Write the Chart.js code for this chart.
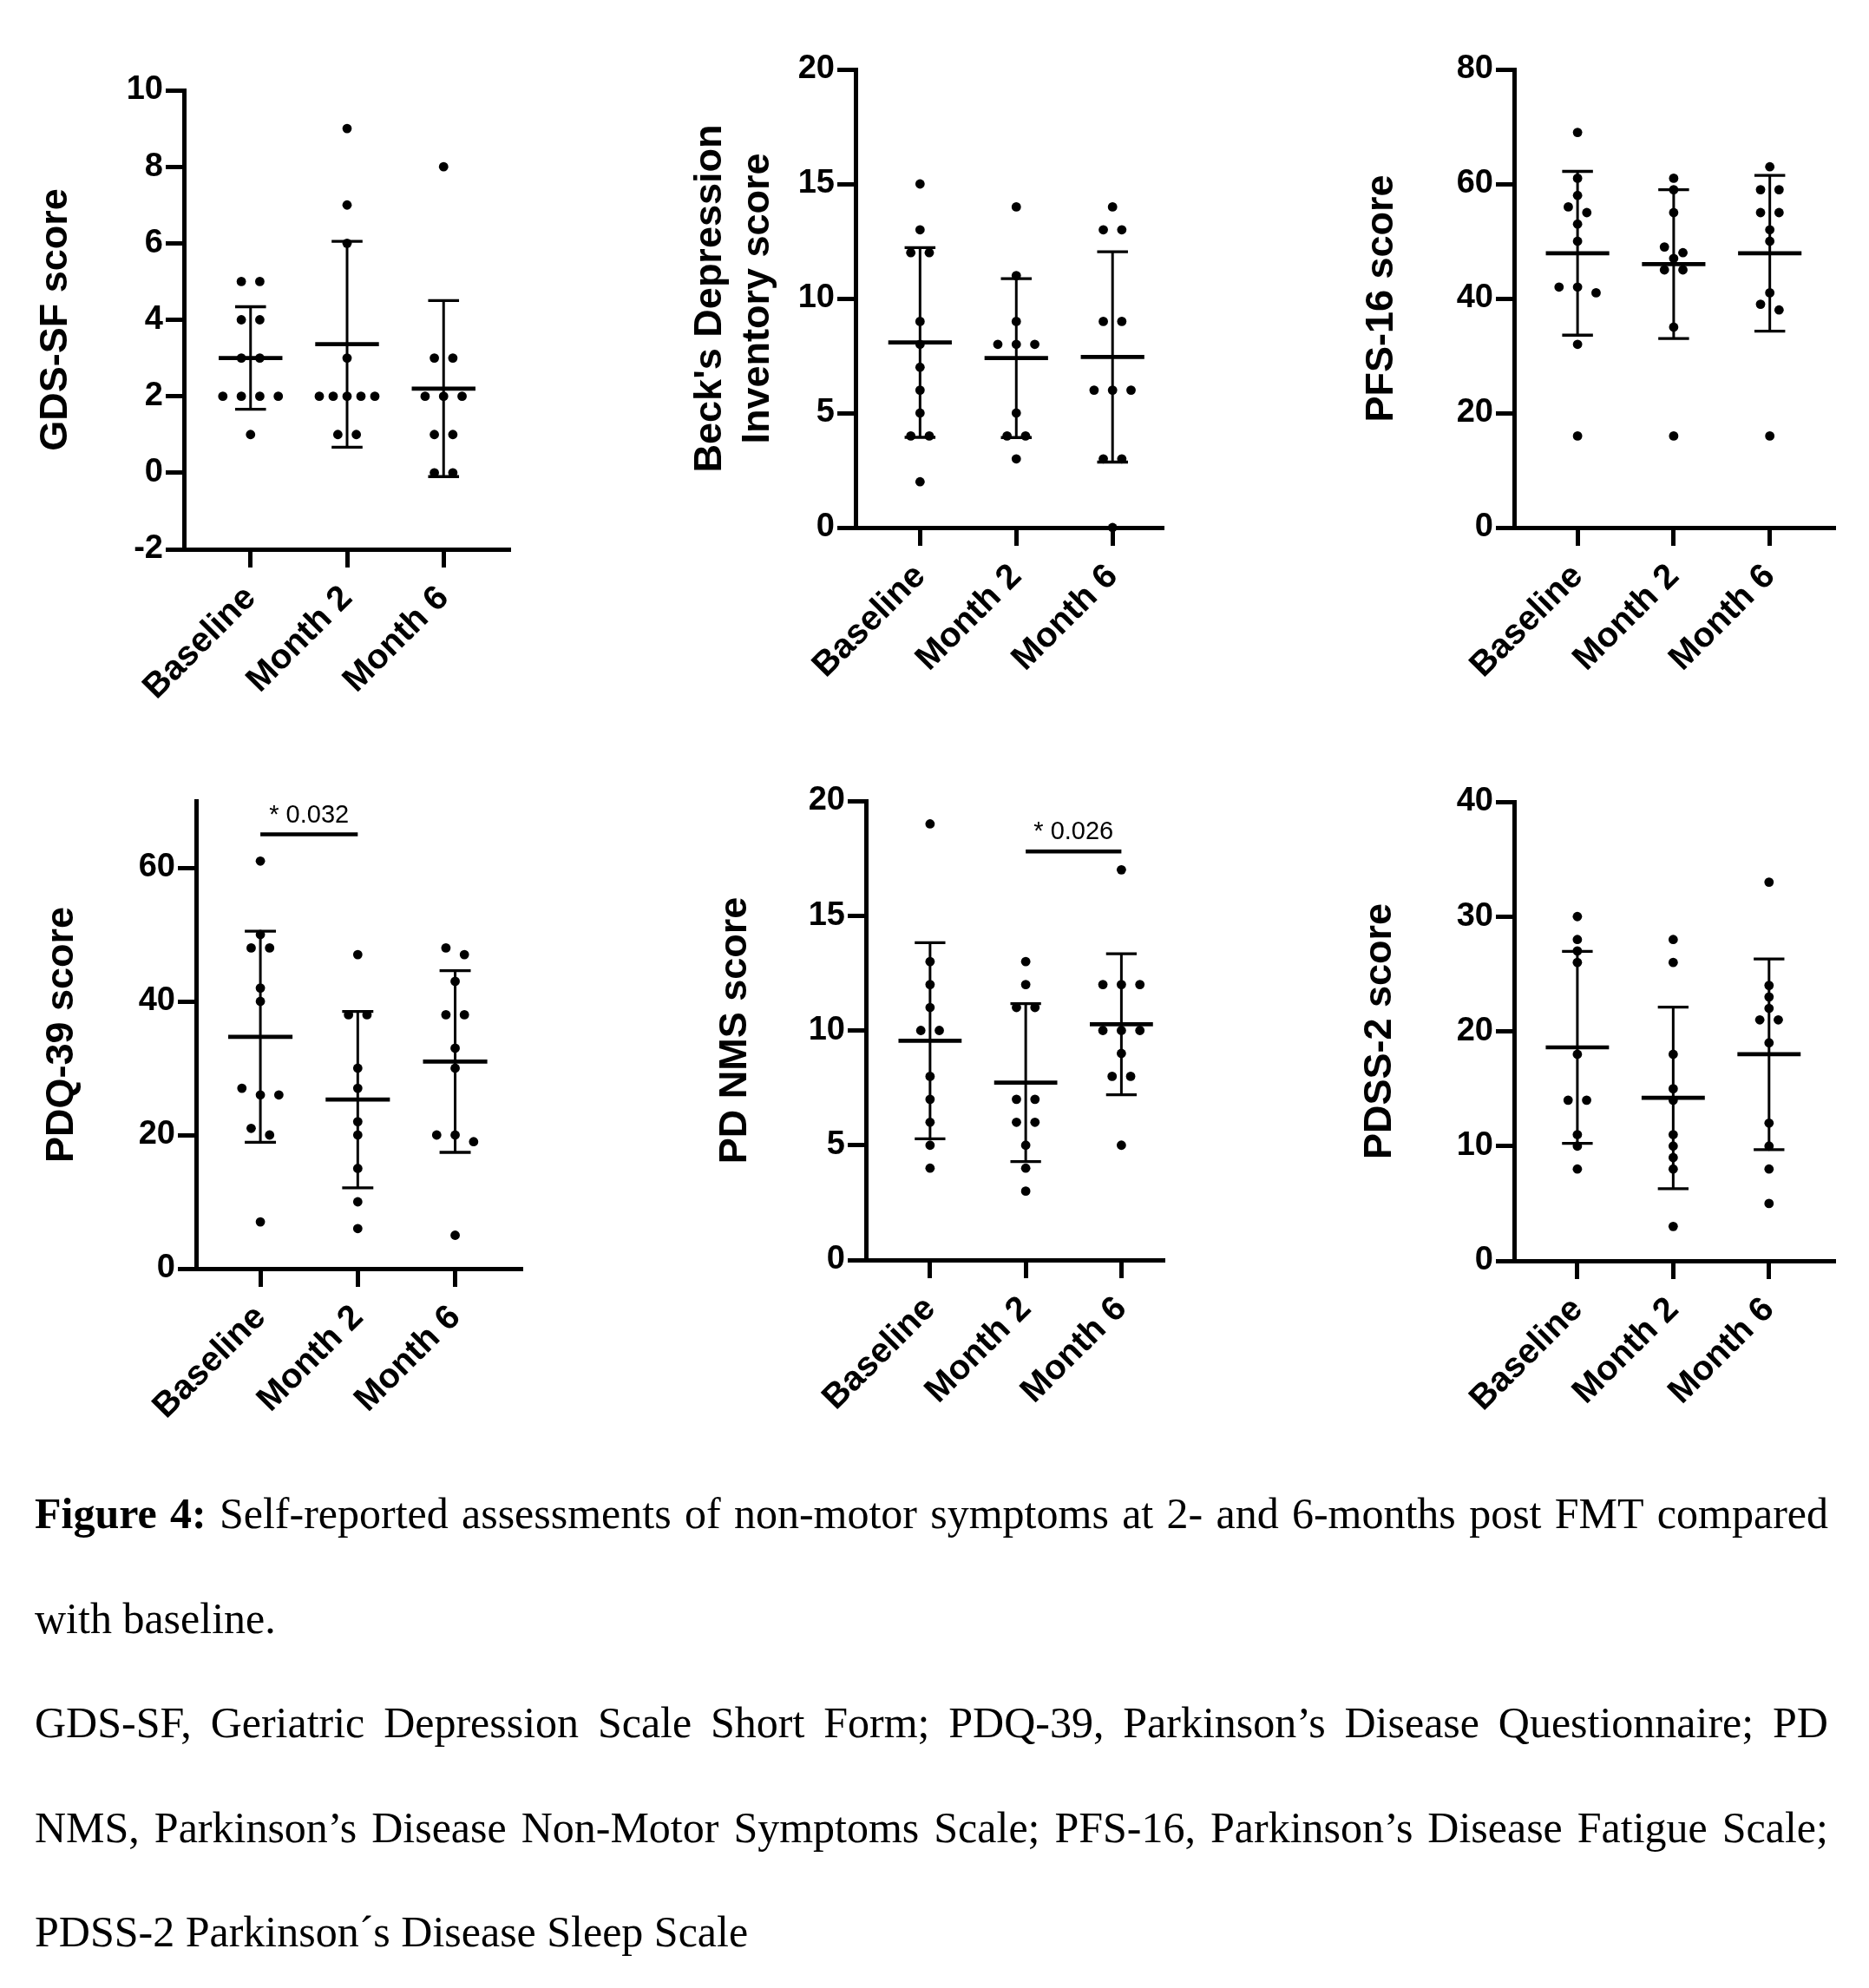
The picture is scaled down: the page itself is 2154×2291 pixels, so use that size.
<!DOCTYPE html>
<html lang="en">
<head>
<meta charset="UTF-8">
<title>Figure 4</title>
<script src="https://cdn.jsdelivr.net/npm/chart.js@4.4.1/dist/chart.umd.min.js"></script>
<style>
  html, body { margin: 0; padding: 0; background: #fff; }
  body { position: relative; width: 2154px; height: 2291px; overflow: hidden; }
  canvas { position: absolute; }
  .cap { position: absolute; left: 40px; width: 2067px; font-family: "Liberation Serif", "Times New Roman", serif;
         font-size: 50px; line-height: 50px; color: #000; white-space: nowrap; }
  .just { display: flex; justify-content: space-between; }
</style>
</head>
<body>
<canvas id="c1"></canvas>
<canvas id="c2"></canvas>
<canvas id="c3"></canvas>
<canvas id="c4"></canvas>
<canvas id="c5"></canvas>
<canvas id="c6"></canvas>
<div id="caption"></div>

<script>
// ---- data ----
const categories = ['Baseline', 'Month 2', 'Month 6'];

// GDS-SF
const gdsPoints = [[5, 5, 4, 4, 3, 3, 2, 2, 2, 2, 1], [9, 7, 6, 3, 2, 2, 2, 2, 2, 1, 1], [8, 3, 3, 2, 2, 2, 1, 1, 0, 0]];
const gdsMean = [3.0, 3.36, 2.2];
const gdsSD = [1.34, 2.69, 2.3];
const gdsTicks = [-2, 0, 2, 4, 6, 8, 10];

// Beck's Depression Inventory
const bdiPoints = [[15, 13, 12, 12, 9, 8, 7, 6, 5, 4, 4, 2], [14, 11, 9, 8, 8, 8, 5, 4, 4, 3], [14, 13, 13, 9, 9, 6, 6, 6, 3, 3, 0]];
const bdiMean = [8.08, 7.4, 7.45];
const bdiSD = [4.14, 3.47, 4.59];
const bdiTicks = [0, 5, 10, 15, 20];

// PFS-16
const pfsPoints = [[69, 61, 58, 56, 55, 53, 50, 42, 42, 41, 32, 16], [61, 59, 55, 49, 48, 47, 45, 45, 35, 16], [63, 59, 59, 55, 55, 52, 50, 41, 39, 38, 16]];
const pfsMean = [47.9, 46.0, 47.9];
const pfsSD = [14.3, 13.0, 13.6];
const pfsTicks = [0, 20, 40, 60, 80];

// PDQ-39
const pdqPoints = [[61, 50, 48, 48, 42, 40, 27, 26, 26, 21, 20, 7], [47, 38, 38, 30, 27, 22, 20, 15, 10, 6], [48, 47, 43, 38, 38, 33, 30, 20, 20, 19, 5]];
const pdqMean = [34.7, 25.3, 31.0];
const pdqSD = [15.8, 13.2, 13.6];
const pdqTicks = [0, 20, 40, 60];
const pdqSig = [1, 2, 65];
const pdqSigLabel = '* 0.032';

// PD NMS
const nmsPoints = [[19, 13, 12, 11, 10, 10, 8, 7, 6, 5, 4], [13, 12, 11, 11, 7, 7, 6, 6, 5, 4, 3], [17, 12, 12, 12, 10, 10, 10, 9, 8, 8, 5]];
const nmsMean = [9.55, 7.73, 10.27];
const nmsSD = [4.27, 3.44, 3.07];
const nmsTicks = [0, 5, 10, 15, 20];
const nmsSig = [2, 3, 17.8];
const nmsSigLabel = '* 0.026';

// PDSS-2
const pdssPoints = [[30, 28, 27, 26, 18, 14, 14, 11, 10, 8], [28, 26, 18, 15, 14, 11, 10, 9, 8, 3], [33, 24, 23, 22, 21, 21, 19, 12, 10, 8, 5]];
const pdssMean = [18.6, 14.2, 18.0];
const pdssSD = [8.37, 7.91, 8.31];
const pdssTicks = [0, 10, 20, 30, 40];

// ---- layout (page pixels) ----
const panels = [
  { id: 'c1', title: 'GDS-SF score', points: gdsPoints, mean: gdsMean, sd: gdsSD, ticks: gdsTicks, yMax: 10,
    xMin: 0.31, xMax: 3.69, axisX: 212, right: 588, top: 103.6, bottom: 632.9, titleX: 65 },
  { id: 'c2', title: ["Beck's Depression", 'Inventory score'], points: bdiPoints, mean: bdiMean, sd: bdiSD, ticks: bdiTicks, yMax: 20,
    xMin: 0.33, xMax: 3.53, axisX: 986.4, right: 1341.5, top: 79.5, bottom: 607.4, titleX: 819 },
  { id: 'c3', title: 'PFS-16 score', points: pfsPoints, mean: pfsMean, sd: pfsSD, ticks: pfsTicks, yMax: 80,
    xMin: 0.34, xMax: 3.68, axisX: 1745.4, right: 2115, top: 79.5, bottom: 607.4, titleX: 1593 },
  { id: 'c4', title: 'PDQ-39 score', points: pdqPoints, mean: pdqMean, sd: pdqSD, ticks: pdqTicks, yMax: 70,
    xMin: 0.34, xMax: 3.69, axisX: 225.7, right: 602, top: 923.4, bottom: 1462.1, titleX: 71,
    sig: pdqSig, sigLabel: pdqSigLabel },
  { id: 'c5', title: 'PD NMS score', points: nmsPoints, mean: nmsMean, sd: nmsSD, ticks: nmsTicks, yMax: 20,
    xMin: 0.33, xMax: 3.45, axisX: 997.9, right: 1341.5, top: 923.4, bottom: 1452.3, titleX: 848,
    sig: nmsSig, sigLabel: nmsSigLabel },
  { id: 'c6', title: 'PDSS-2 score', points: pdssPoints, mean: pdssMean, sd: pdssSD, ticks: pdssTicks, yMax: 40,
    xMin: 0.34, xMax: 3.69, axisX: 1745.4, right: 2115, top: 924.4, bottom: 1453.3, titleX: 1591 }
];

const AXIS_W = 200, PAD_TOP = 40, PAD_RIGHT = 20, XAXIS_H = 230;
const FONT = '"Liberation Sans", Arial, sans-serif';

// mean line, SD whiskers and significance bar, drawn through the chart scales
function summaryPlugin(p) {
  return {
    id: 'summary',
    beforeDatasetsDraw(chart) {
      const { ctx } = chart;
      const x = chart.scales.x, y = chart.scales.y;
      function seg(x1, y1, x2, y2, w) {
        ctx.lineWidth = w;
        ctx.beginPath(); ctx.moveTo(x1, y1); ctx.lineTo(x2, y2); ctx.stroke();
      }
      ctx.save();
      ctx.strokeStyle = '#000';
      ctx.lineCap = 'butt';
      p.mean.forEach((m, i) => {
        const c = i + 1;
        const xc = x.getPixelForValue(c);
        const lo = y.getPixelForValue(m - p.sd[i]);
        const hi = y.getPixelForValue(m + p.sd[i]);
        const ym = y.getPixelForValue(m);
        seg(xc, lo, xc, hi, 3);
        seg(x.getPixelForValue(c - 0.16), lo, x.getPixelForValue(c + 0.16), lo, 3.3);
        seg(x.getPixelForValue(c - 0.16), hi, x.getPixelForValue(c + 0.16), hi, 3.3);
        seg(x.getPixelForValue(c - 0.33), ym, x.getPixelForValue(c + 0.33), ym, 4.7);
      });
      if (p.sig) {
        const x1 = x.getPixelForValue(p.sig[0]), x2 = x.getPixelForValue(p.sig[1]);
        const ys = y.getPixelForValue(p.sig[2]);
        seg(x1, ys, x2, ys, 4.4);
        ctx.fillStyle = '#000';
        ctx.font = '29px ' + FONT;
        ctx.textAlign = 'center';
        ctx.textBaseline = 'alphabetic';
        ctx.fillText(p.sigLabel, (x1 + x2) / 2, ys - 14);
      }
      ctx.restore();
    }
  };
}

function drawPanel(p) {
  const W = Math.round(AXIS_W + (p.right - p.axisX) + PAD_RIGHT);
  const H = Math.round(PAD_TOP + (p.bottom - p.top) + XAXIS_H);
  const cv = document.getElementById(p.id);
  cv.width = W; cv.height = H;
  cv.style.width = W + 'px'; cv.style.height = H + 'px';
  cv.style.left = (p.axisX - AXIS_W) + 'px';
  cv.style.top = (p.top - PAD_TOP) + 'px';

  // spread equal / near-equal values sideways like a column scatter
  const pxX = (p.right - p.axisX) / (p.xMax - p.xMin);
  const pxY = (p.bottom - p.top) / (p.yMax - p.ticks[0]);
  const binGap = 10 / pxY;
  const dots = [];
  p.points.forEach((vals, i) => {
    const sorted = vals.slice().sort((a, b) => b - a);
    let bin = [];
    const flush = () => {
      const n = bin.length;
      const stepPx = n > 1 ? Math.min(21.3, 64 / (n - 1)) : 0;
      bin.forEach((v, k) => dots.push({ x: i + 1 + (k - (n - 1) / 2) * stepPx / pxX, y: v }));
      bin = [];
    };
    sorted.forEach(v => {
      if (bin.length && bin[0] - v >= binGap) flush();
      bin.push(v);
    });
    flush();
  });

  const axisLine = { display: true, color: '#000', width: 5 };
  const tickGrid = { drawOnChartArea: false, drawTicks: true, tickLength: 21, tickWidth: 5, tickColor: '#000' };

  new Chart(cv, {
    type: 'scatter',
    data: {
      datasets: [{
        data: dots,
        pointRadius: 5.4,
        pointHoverRadius: 5.4,
        backgroundColor: '#000',
        borderWidth: 0,
        clip: false
      }]
    },
    options: {
      responsive: false,
      animation: false,
      devicePixelRatio: 1,
      events: [],
      layout: { padding: { left: 0, top: PAD_TOP, right: PAD_RIGHT, bottom: 0 } },
      plugins: { legend: { display: false }, tooltip: { enabled: false } },
      scales: {
        x: {
          type: 'linear',
          min: p.xMin,
          max: p.xMax,
          afterBuildTicks: s => { s.ticks = [1, 2, 3].map(v => ({ value: v })); },
          afterFit: s => { s.height = XAXIS_H; },
          border: axisLine,
          grid: tickGrid,
          ticks: {
            autoSkip: false, minRotation: 45, maxRotation: 45, padding: 12, color: '#000',
            font: { family: FONT, size: 40, weight: 'bold' },
            callback: (v, i) => categories[i]
          }
        },
        y: {
          type: 'linear',
          min: p.ticks[0],
          max: p.yMax,
          afterBuildTicks: s => { s.ticks = p.ticks.map(v => ({ value: v })); },
          afterFit: s => { s.width = AXIS_W; },
          border: axisLine,
          grid: tickGrid,
          ticks: {
            padding: 3, color: '#000',
            font: { family: FONT, size: 38, weight: 'bold' },
            callback: v => String(v)
          },
          title: {
            display: true,
            text: p.title,
            color: '#000',
            font: { family: FONT, size: 45, weight: 'bold', lineHeight: 1.23 },
            padding: { top: p.titleX - (p.axisX - AXIS_W) - 27.7, bottom: 0 }
          }
        }
      }
    },
    plugins: [summaryPlugin(p)]
  });
}

panels.forEach(drawPanel);

// ---- caption ----
const captionLines = [
  { text: 'Figure 4: Self-reported assessments of non-motor symptoms at 2- and 6-months post FMT compared', bold: 2, just: true },
  { text: 'with baseline.', bold: 0, just: false },
  { text: 'GDS-SF, Geriatric Depression Scale Short Form; PDQ-39, Parkinson\u2019s Disease Questionnaire; PD', bold: 0, just: true },
  { text: 'NMS, Parkinson\u2019s Disease Non-Motor Symptoms Scale; PFS-16, Parkinson\u2019s Disease Fatigue Scale;', bold: 0, just: true },
  { text: 'PDSS-2 Parkinson\u00b4s Disease Sleep Scale', bold: 0, just: false }
];
const captionBaselines = [1761, 1881.5, 2002, 2122.5, 2243];
const capBox = document.getElementById('caption');
captionLines.forEach((ln, i) => {
  const d = document.createElement('div');
  d.className = 'cap' + (ln.just ? ' just' : '');
  d.style.top = (captionBaselines[i] - 42) + 'px';
  const words = ln.text.split(' ');
  if (ln.just) {
    words.forEach((w, k) => {
      const s = document.createElement(k < ln.bold ? 'b' : 'span');
      s.textContent = w;
      d.appendChild(s);
    });
  } else {
    d.textContent = ln.text;
  }
  capBox.appendChild(d);
});
</script>
</body>
</html>
